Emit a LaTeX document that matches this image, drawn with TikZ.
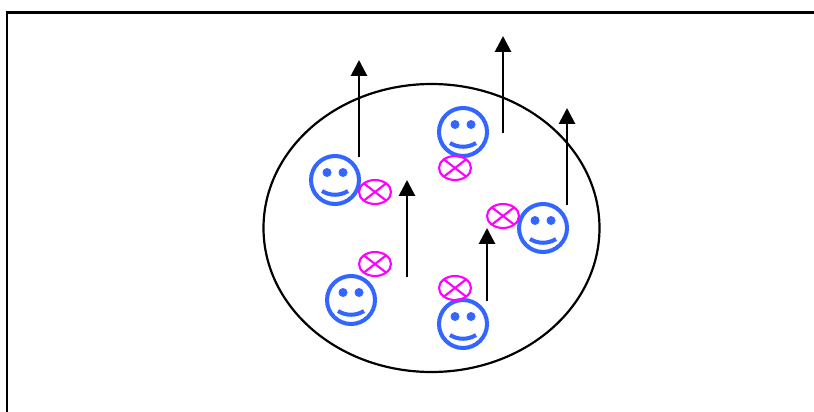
\documentclass[tikz,border=0pt]{standalone}
\usepackage{tikz}
\usetikzlibrary{arrows.meta}

\definecolor{faceblue}{RGB}{51,102,255}
\definecolor{crosspink}{RGB}{255,0,255}

\tikzset{
  frameline/.style={black, line width=1.35pt},
  faceline/.style={draw=faceblue, line width=2.3pt},
  faceeye/.style={fill=faceblue},
  crossline/.style={draw=crosspink, line width=1.2pt},
  spinarrow/.style={black, line width=1.6pt, -{Triangle[length=9pt,width=9pt]}}
}

\begin{document}
\begin{tikzpicture}[x=0.02cm, y=-0.02cm]

\useasboundingbox (0, 0) rectangle (814, 412);

\draw[frameline] (7, 412) -- (7, 12.5) -- (814, 12.5);
\draw[black, line width=1.25pt] (431.5, 228) ellipse (168 and 144);

\foreach \x/\y in {335/180, 463/132, 543/228, 351/300, 463/324} {
  \draw[faceline] (\x, \y) circle (24);
  \fill[faceeye] (\x - 8, \y - 7.5) circle (4.5);
  \fill[faceeye] (\x + 8, \y - 7.5) circle (4.5);
  \draw[faceline] (\x - 13, \y + 11) .. controls (\x - 5, \y + 16) and (\x + 5, \y + 16) .. (\x + 13, \y + 11);
}

\foreach \x/\y in {375/192, 455/168, 503/216, 375/264, 455/288} {
  \draw[crossline] (\x, \y) ellipse (16 and 12);
  \draw[crossline] (\x - 11, \y - 8.5) -- (\x + 11, \y + 8.5);
  \draw[crossline] (\x - 11, \y + 8.5) -- (\x + 11, \y - 8.5);
}

\draw[spinarrow] (359, 157) -- (359, 60);
\draw[spinarrow] (503, 133) -- (503, 36);
\draw[spinarrow] (567, 205) -- (567, 108);
\draw[spinarrow] (407, 277) -- (407, 180);
\draw[spinarrow] (487, 301) -- (487, 228);

\end{tikzpicture}
\end{document}
